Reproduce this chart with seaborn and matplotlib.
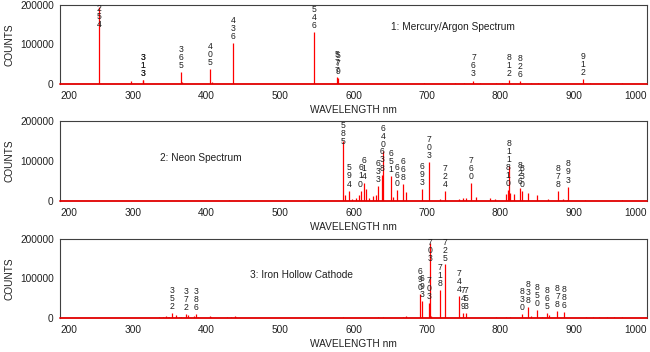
import numpy as np
import matplotlib
matplotlib.use("Agg")
import matplotlib.pyplot as plt
import seaborn as sns

# peak positions (nm), heights (counts) and the tag printed above each peak
hg_nm = [253.7, 296.7, 312.6, 313.2, 365.0, 366.3, 404.7, 407.8, 435.8, 546.1,
         577.0, 579.1, 696.5, 738.4, 750.4, 763.5, 772.4, 794.8, 801.7, 811.5,
         826.5, 842.5, 852.1, 912.3, 922.5, 965.8]
hg_counts = [195000, 6000, 10000, 9000, 29000, 4000, 37000, 3500, 104000, 131000,
             16000, 15000, 3000, 1500, 2500, 8000, 3000, 1500, 2000, 9500,
             6000, 3000, 1500, 11000, 1500, 1500]
hg_tags = ['254', '', '313', '313', '365', '', '405', '', '436', '546',
           '577', '579', '', '', '', '763', '', '', '', '812',
           '826', '', '', '912', '', '']

ne_nm = [430.0, 540.0, 585.2, 588.2, 594.5, 597.6, 603.0, 607.4, 609.6, 614.3,
         616.4, 621.7, 626.6, 630.5, 633.4, 638.3, 640.2, 650.6, 653.3, 659.9,
         667.8, 671.7, 692.9, 703.2, 717.4, 724.5, 743.9, 748.9, 753.6, 760.0,
         767.0, 785.5, 792.7, 808.2, 810.3, 811.9, 813.6, 819.0, 826.7, 830.0,
         837.8, 849.5, 865.4, 878.1, 885.4, 891.0, 892.9, 914.9, 966.5]
ne_counts = [1500, 1500, 150000, 14000, 26000, 5000, 8000, 16000, 26000, 44000,
             30000, 8000, 12000, 15000, 38000, 66000, 125000, 62000, 10000, 28000,
             42000, 22000, 30000, 98000, 5000, 25000, 6000, 7000, 7000, 44000,
             9000, 8000, 4000, 17000, 28000, 88000, 20000, 17000, 32000, 25000,
             20000, 14000, 5000, 25000, 5000, 3000, 36000, 3000, 2000]
ne_tags = ['', '', '585', '', '594', '', '', '', '610', '614',
           '', '', '', '', '633', '638', '640', '651', '', '660',
           '668', '', '693', '703', '', '724', '', '', '', '760',
           '', '', '', '', '810', '811', '', '', '826', '830',
           '', '', '', '878', '', '', '893', '', '']

fe_nm = [335.0, 340.0, 344.1, 346.6, 349.1, 352.4, 358.1, 361.9, 364.8, 372.0,
         374.6, 382.0, 385.9, 388.6, 404.6, 406.4, 427.2, 432.6, 438.4, 440.5,
         585.2, 633.4, 640.2, 667.8, 671.7, 690.2, 692.9, 702.4, 703.7, 706.0,
         717.4, 725.0, 743.9, 748.9, 753.6, 794.8, 808.2, 813.6, 830.0, 838.0,
         842.5, 849.9, 857.0, 864.0, 866.8, 878.0, 886.4, 917.0, 926.0, 935.0,
         945.0, 955.0, 966.0]
fe_counts = [2000, 3000, 4000, 3000, 3000, 11000, 6000, 3000, 2500, 10000,
             6000, 4000, 9000, 3000, 5000, 3000, 2500, 2000, 4000, 3000,
             2500, 1500, 1500, 3000, 4000, 60000, 42000, 38000, 190000, 4000,
             70000, 137000, 55000, 11000, 11000, 3000, 2000, 3000, 9000, 26000,
             5000, 19000, 3000, 12000, 6000, 16000, 14000, 2000, 2000, 2000,
             1500, 1500, 3000]
fe_tags = ['', '', '', '', '', '352', '', '', '', '372',
           '', '', '386', '', '', '', '', '', '', '',
           '', '', '', '', '', '690', '693', '703', '703', '',
           '718', '725', '744', '749', '753', '', '', '', '830', '838',
           '', '850', '', '865', '', '878', '886', '', '', '',
           '', '', '']

panels = [
    (hg_nm, hg_counts, hg_tags, "1: Mercury/Argon Spectrum", (0.669, 0.72)),
    (ne_nm, ne_counts, ne_tags, "2: Neon Spectrum", (0.240, 0.54)),
    (fe_nm, fe_counts, fe_tags, "3: Iron Hollow Cathode", (0.412, 0.54)),
]

sns.set_theme(style="white")
plt.rcParams['font.family'] = ['Liberation Sans', 'DejaVu Sans']

fig = plt.figure(figsize=(6.5, 3.52), dpi=100)
# axes boxes (left, bottom, width, height) in figure fraction
boxes = [(0.0923, 0.7622, 0.9031, 0.2236),
         (0.0923, 0.4290, 0.9031, 0.2273),
         (0.0923, 0.0974, 0.9031, 0.2236)]
frame = '#404040'
label_cap = 133000  # tags of tall peaks stay inside the frame

for (nm, counts, tags, title, tpos), box in zip(panels, boxes):
    ax = fig.add_axes(box)
    ax.set_xlim(200, 1000)
    ax.set_ylim(0, 200000)
    ax.vlines(nm, 0, counts, color='red', linewidth=0.9)
    ax.axhline(0, color='#e00000', linewidth=1.3, clip_on=False, zorder=3)

    for x, c, t in zip(nm, counts, tags):
        if not t:
            continue
        ax.annotate("\n".join(t), xy=(x, min(c, label_cap)), xytext=(0, 1.5),
                    textcoords='offset points', ha='center', va='bottom',
                    fontsize=6.2, linespacing=0.86, color='#202020')

    ax.text(tpos[0], tpos[1], title, transform=ax.transAxes, ha='center',
            va='center', fontsize=7.3, color='#202020')

    ax.set_xticks(np.arange(200, 1001, 100))
    ax.set_xticklabels([str(v) for v in range(200, 1001, 100)])
    xl = ax.get_xticklabels()
    xl[0].set_ha('left')
    xl[-1].set_ha('right')
    ax.set_yticks([0, 100000, 200000])
    ax.set_yticklabels(['0', '100000', '200000'])
    ax.tick_params(axis='both', labelsize=7.3, colors='#202020', length=3,
                   width=0.6, pad=2.5, direction='out')
    ax.tick_params(axis='x', length=2, pad=3)
    ax.tick_params(axis='y', pad=1.5)
    for s in ['left', 'top', 'right']:
        ax.spines[s].set_color(frame)
        ax.spines[s].set_linewidth(0.8)
    ax.spines['bottom'].set_visible(False)

    ax.set_xlabel("WAVELENGTH nm", fontsize=7.3, color='#202020', labelpad=3)
    ax.set_ylabel("COUNTS", fontsize=7.3, color='#202020', labelpad=4)
    ax.yaxis.set_label_coords(-0.077, 0.5)

fig.savefig("out.png", dpi=100)
